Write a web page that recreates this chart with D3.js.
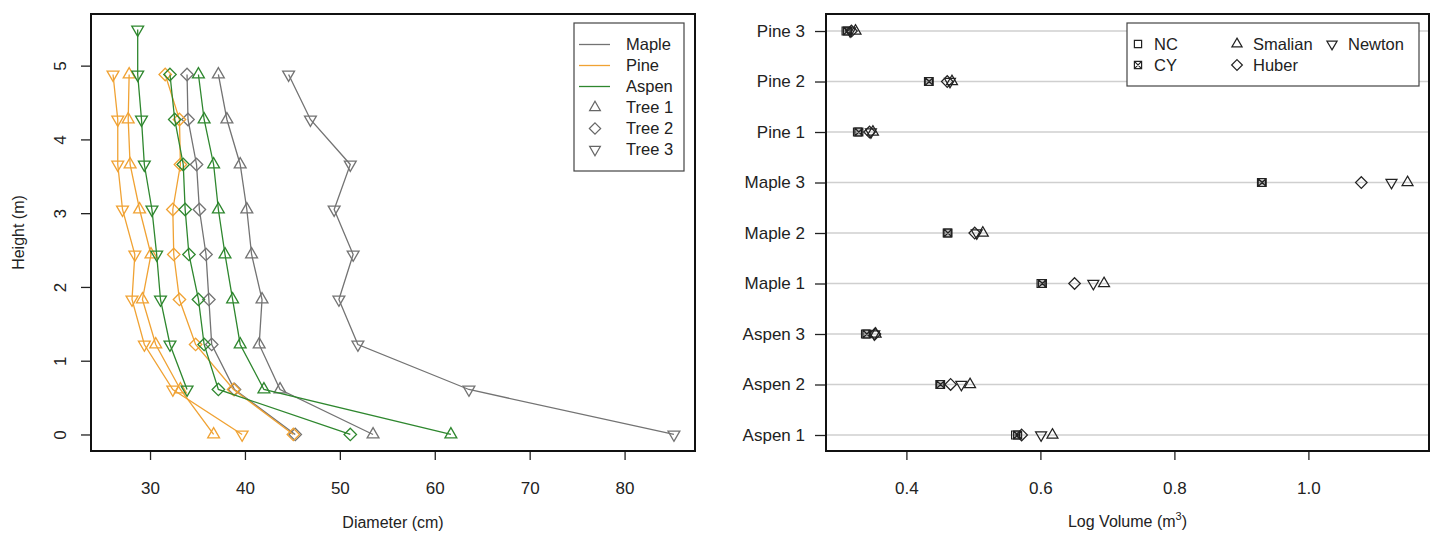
<!DOCTYPE html>
<html>
<head>
<meta charset="utf-8">
<script src="https://cdn.jsdelivr.net/npm/d3@7"></script>
<style>
  body { margin: 0; background: #fff; }
  svg text { font-family: "Liberation Sans", Arial, sans-serif; fill: #222; }
</style>
</head>
<body>
<svg width="1434" height="534"></svg>
<script>
// ---- data: left panel (stem profiles) ----
const heights = [0, 0.61, 1.22, 1.83, 2.44, 3.05, 3.66, 4.27, 4.88, 5.49]
const mapleT1 = [53.5, 43.7, 41.5, 41.8, 40.7, 40.2, 39.5, 38.1, 37.2]
const mapleT2 = [45.3, 38.9, 36.5, 36.2, 35.9, 35.2, 34.9, 34.0, 33.9]
const mapleT3 = [85.2, 63.6, 51.9, 49.9, 51.4, 49.4, 51.1, 46.9, 44.6]
const pineT1 = [36.7, 33.2, 30.6, 29.2, 30.1, 28.9, 27.9, 27.7, 27.8]
const pineT2 = [45.1, 38.8, 34.8, 33.1, 32.5, 32.4, 33.2, 33.1, 31.6]
const pineT3 = [39.7, 32.4, 29.4, 28.1, 28.4, 27.1, 26.6, 26.6, 26.1]
const aspenT1 = [61.7, 42.0, 39.5, 38.7, 37.9, 37.2, 36.7, 35.7, 35.1]
const aspenT2 = [51.1, 37.2, 35.7, 35.1, 34.1, 33.7, 33.5, 32.6, 32.1]
const aspenT3 = [null, 33.9, 32.1, 31.1, 30.7, 30.2, 29.4, 29.1, 28.7, 28.7]
const xTicksL = [30, 40, 50, 60, 70, 80]
const yTicksL = [0, 1, 2, 3, 4, 5]

// ---- data: right panel (volumes) ----
const trees = ['Aspen 1', 'Aspen 2', 'Aspen 3', 'Maple 1', 'Maple 2', 'Maple 3', 'Pine 1', 'Pine 2', 'Pine 3']
const volNC      = [0.563, 0.450, 0.339, 0.601, 0.461, 0.930, 0.327, 0.433, 0.310]
const volCY      = [0.566, 0.451, 0.341, 0.603, 0.462, 0.931, 0.329, 0.434, 0.312]
const volSmalian = [0.618, 0.495, 0.354, 0.695, 0.514, 1.148, 0.350, 0.468, 0.324]
const volHuber   = [0.572, 0.466, 0.353, 0.651, 0.502, 1.079, 0.345, 0.461, 0.318]
const volNewton  = [0.601, 0.482, 0.352, 0.679, 0.505, 1.124, 0.347, 0.465, 0.316]
const xTicksR = [0.4, 0.6, 0.8, 1.0]

const svg = d3.select('svg')
const colors = {Maple: '#737373', Pine: '#f0a233', Aspen: '#2e872e'}

// R-like plotting symbols, size r
const shape = (type, r) => {
    const t0 = 1.555 * r, t1 = 1.347 * r, t2 = 0.778 * r
    if (type === 'up') return `M0,${-t0}L${t1},${t2}L${-t1},${t2}Z`
    if (type === 'down') return `M0,${t0}L${t1},${-t2}L${-t1},${-t2}Z`
    if (type === 'diamond') { const d = 1.414 * r; return `M0,${-d}L${d},0L0,${d}L${-d},0Z` }
    if (type === 'square') return `M${-r},${-r}H${r}V${r}H${-r}Z`
    if (type === 'squarex') return `M${-r},${-r}H${r}V${r}H${-r}ZM${-r},${-r}L${r},${r}M${r},${-r}L${-r},${r}`
}

// ---------- left panel ----------
const L = {x0: 91, x1: 695, y0: 14, y1: 451}
const xL = d3.scaleLinear().domain([23.78, 87.42]).range([L.x0, L.x1])
const yL = d3.scaleLinear().domain([-0.224, 5.70]).range([L.y1, L.y0])

const series = [
    {sp: 'Maple', sym: 'up', v: mapleT1}, {sp: 'Maple', sym: 'diamond', v: mapleT2}, {sp: 'Maple', sym: 'down', v: mapleT3},
    {sp: 'Pine', sym: 'up', v: pineT1}, {sp: 'Pine', sym: 'diamond', v: pineT2}, {sp: 'Pine', sym: 'down', v: pineT3},
    {sp: 'Aspen', sym: 'up', v: aspenT1}, {sp: 'Aspen', sym: 'diamond', v: aspenT2}, {sp: 'Aspen', sym: 'down', v: aspenT3}
]

const line = d3.line().x(d => xL(d.d)).y(d => yL(d.h))
series.forEach(s => {
    const pts = s.v.map((d, i) => ({d, h: heights[i]})).filter(p => p.d != null)
    svg.append('path').attr('d', line(pts)).attr('fill', 'none')
        .attr('stroke', colors[s.sp]).attr('stroke-width', 1.3)
    svg.selectAll(null).data(pts).enter().append('path')
        .attr('d', shape(s.sym, 4.4))
        .attr('transform', p => `translate(${xL(p.d)},${yL(p.h)})`)
        .attr('fill', 'none').attr('stroke', colors[s.sp]).attr('stroke-width', 1.3)
})

svg.append('g').attr('transform', `translate(0,${L.y1})`)
    .call(d3.axisBottom(xL).tickValues(xTicksL).tickSize(9).tickPadding(22).tickFormat(d3.format('d')))
const axLL = svg.append('g').attr('transform', `translate(${L.x0},0)`)
    .call(d3.axisLeft(yL).tickValues(yTicksL).tickSize(10).tickFormat(d3.format('d')))
axLL.selectAll('.tick text').attr('transform', 'rotate(-90)').attr('x', 0).attr('y', -31)
    .attr('text-anchor', 'middle').attr('dy', '0.35em')

svg.append('rect').attr('x', L.x0).attr('y', L.y0).attr('width', L.x1 - L.x0).attr('height', L.y1 - L.y0)
    .attr('fill', 'none').attr('stroke', '#111').attr('stroke-width', 2)

svg.append('text').attr('x', (L.x0 + L.x1) / 2).attr('y', 528).attr('text-anchor', 'middle')
    .attr('font-size', 16).text('Diameter (cm)')
svg.append('text').attr('transform', `translate(24,${(L.y0 + L.y1) / 2}) rotate(-90)`).attr('text-anchor', 'middle')
    .attr('font-size', 16).text('Height (m)')

// left legend
const lg = svg.append('g')
lg.append('rect').attr('x', 574).attr('y', 23).attr('width', 110).attr('height', 148)
    .attr('fill', '#fff').attr('stroke', '#444').attr('stroke-width', 1.2)
const legL = [
    {t: 'Maple', c: colors.Maple}, {t: 'Pine', c: colors.Pine}, {t: 'Aspen', c: colors.Aspen},
    {t: 'Tree 1', s: 'up'}, {t: 'Tree 2', s: 'diamond'}, {t: 'Tree 3', s: 'down'}
]
legL.forEach((e, i) => {
    const y = 44.5 + i * 21
    if (e.c) lg.append('line').attr('x1', 579).attr('x2', 610).attr('y1', y).attr('y2', y)
        .attr('stroke', e.c).attr('stroke-width', 1.3)
    else lg.append('path').attr('d', shape(e.s, 4)).attr('transform', `translate(595,${y})`)
        .attr('fill', 'none').attr('stroke', '#666').attr('stroke-width', 1.2)
    lg.append('text').attr('x', 626).attr('y', y).attr('dy', '0.35em').attr('font-size', 16.5).text(e.t)
})

// ---------- right panel ----------
const R = {x0: 826, x1: 1429, y0: 14, y1: 451}
const xR = d3.scaleLinear().domain([0.28, 1.180]).range([R.x0, R.x1])
const yR = d3.scaleLinear().domain([0.683, 9.337]).range([R.y1, R.y0])

trees.forEach((t, i) => {
    svg.append('line').attr('x1', R.x0).attr('x2', R.x1).attr('y1', yR(i + 1)).attr('y2', yR(i + 1))
        .attr('stroke', '#cfcfcf').attr('stroke-width', 1.5)
})

const methods = [
    {name: 'NC', sym: 'square', v: volNC},
    {name: 'CY', sym: 'squarex', v: volCY},
    {name: 'Smalian', sym: 'up', v: volSmalian},
    {name: 'Huber', sym: 'diamond', v: volHuber},
    {name: 'Newton', sym: 'down', v: volNewton}
]
methods.forEach(m => {
    svg.selectAll(null).data(m.v).enter().append('path')
        .attr('d', shape(m.sym, m.sym.startsWith('square') ? 4 : 4.1))
        .attr('transform', (d, i) => `translate(${xR(d)},${yR(i + 1)})`)
        .attr('fill', m.sym === 'squarex' ? 'rgba(0,0,0,0.25)' : 'none')
        .attr('stroke', '#222').attr('stroke-width', 1.2)
})

svg.append('g').attr('transform', `translate(0,${R.y1})`)
    .call(d3.axisBottom(xR).tickValues(xTicksR).tickSize(9).tickPadding(22).tickFormat(d3.format('.1f')))
svg.append('g').attr('transform', `translate(${R.x0},0)`)
    .call(d3.axisLeft(yR).tickValues(d3.range(1, 10)).tickSize(11).tickPadding(10).tickFormat(d => trees[d - 1]))

svg.append('rect').attr('x', R.x0).attr('y', R.y0).attr('width', R.x1 - R.x0).attr('height', R.y1 - R.y0)
    .attr('fill', 'none').attr('stroke', '#111').attr('stroke-width', 2)

const xt = svg.append('text').attr('x', (R.x0 + R.x1) / 2).attr('y', 527).attr('text-anchor', 'middle')
    .attr('font-size', 16)
xt.append('tspan').text('Log Volume (m')
xt.append('tspan').attr('font-size', 11).attr('dy', -7).text('3')
xt.append('tspan').attr('dy', 7).text(')')

// right legend
const rg = svg.append('g')
rg.append('rect').attr('x', 1127).attr('y', 23).attr('width', 292).attr('height', 63)
    .attr('fill', '#fff').attr('stroke', '#444').attr('stroke-width', 1.2)
const legPos = [[1138, 44], [1138, 65], [1237, 44], [1237, 65], [1332, 44]]
methods.forEach((m, i) => {
    const [x, y] = legPos[i]
    rg.append('path').attr('d', shape(m.sym, m.sym.startsWith('square') ? 3.6 : 3.8))
        .attr('transform', `translate(${x},${y})`)
        .attr('fill', 'none').attr('stroke', '#222').attr('stroke-width', 1.2)
    rg.append('text').attr('x', x + 16).attr('y', y).attr('dy', '0.35em').attr('font-size', 16.5).text(m.name)
})

// axis styling
svg.selectAll('.domain').remove()
svg.selectAll('.tick line').attr('stroke', '#222').attr('stroke-width', 1.3)
svg.selectAll('.tick text').attr('font-size', 17).attr('fill', '#222')
    .attr('font-family', '"Liberation Sans", Arial, sans-serif')
</script>
</body>
</html>
